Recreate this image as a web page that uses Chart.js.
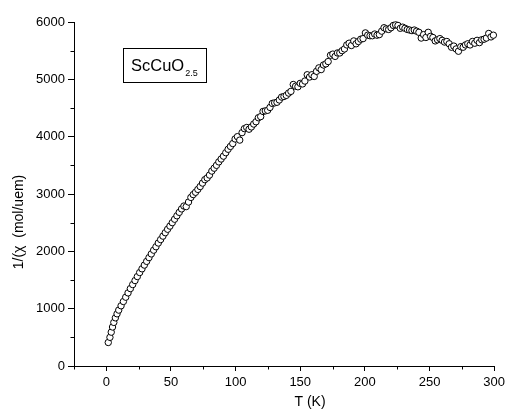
<!DOCTYPE html>
<html>
<head>
<meta charset="utf-8">
<script src="https://cdn.jsdelivr.net/npm/chart.js@4"></script>
<style>
  html, body { margin: 0; padding: 0; background: #fff; }
  #wrap { width: 509px; height: 410px; }
</style>
</head>
<body>
<div id="wrap"><canvas id="chiChart" width="509" height="410"></canvas></div>
<script>
// temperature (K)
const temps = [
  1.5, 2.8, 3.8, 4.8, 5.8, 7, 8.3, 9.6, 11.4, 13.2, 15, 16.8, 18.6, 20.4, 22.2, 24,
  25.8, 27.6, 29.4, 31.2, 33, 34.8, 36.6, 38.4, 40.2, 42, 43.8, 45.6, 47.4, 49.2,
  51, 52.8, 54.6, 56.4, 58.2, 60, 61.8, 63.6, 65.4, 67.2, 69, 70.8, 72.6, 74.4,
  76.2, 78, 79.8, 81.6, 83.4, 85.2, 87, 88.8, 90.6, 92.4, 94.2, 96, 97.8, 99.6,
  101.4, 103.2, 105, 106.8, 108.6, 110.4, 112.2, 114, 115.8, 117.6, 119.4, 121.2,
  123, 124.8, 126.6, 128.4, 130.2, 132, 133.8, 135.6, 137.4, 139.2, 141, 142.8,
  144.6, 146.4, 148.2, 150, 151.8, 153.6, 155.4, 157.2, 159, 160.8, 162.6, 164.4,
  166.2, 168, 169.8, 171.6, 173.4, 175.2, 177, 178.8, 180.6, 182.4, 184.2, 186,
  187.8, 189.6, 191.4, 193.2, 195, 196.8, 198.6, 200.4, 202.2, 204, 205.8, 207.6,
  209.4, 211.2, 213, 214.8, 216.6, 218.4, 220.2, 222, 223.8, 225.6, 227.4, 229.2,
  231, 232.8, 234.6, 236.4, 238.2, 240, 241.8, 243.6, 245.4, 247.2, 249, 250.8,
  252.6, 254.4, 256.2, 258, 259.8, 261.6, 263.4, 265.2, 267, 268.8, 270.6, 272.4,
  274.2, 276, 277.8, 279.6, 281.4, 283.2, 285, 286.8, 288.6, 290.4, 292.2, 294,
  295.8, 297.6, 299.4
];

// 1/chi (mol/uem)
const invChi = [
  410, 500, 590, 680, 760, 840, 910, 975, 1050, 1125, 1200, 1275, 1350, 1420, 1490, 1560,
  1630, 1695, 1760, 1825, 1890, 1955, 2020, 2080, 2145, 2205, 2265, 2325, 2385, 2440,
  2500, 2560, 2620, 2680, 2740, 2790, 2780, 2860, 2940, 2990, 3030, 3080, 3130, 3190,
  3250, 3280, 3330, 3400, 3450, 3500, 3560, 3610, 3660, 3720, 3780, 3830, 3880, 3960,
  4000, 3940, 4070, 4140, 4160, 4130, 4170, 4220, 4260, 4330, 4350, 4440,
  4450, 4460, 4510, 4580, 4590, 4600, 4640, 4690, 4700, 4720, 4760, 4790,
  4910, 4880, 4870, 4930, 4920, 4970, 5080, 5040, 5080, 5050, 5140, 5200,
  5170, 5250, 5270, 5310, 5420, 5440, 5400, 5460, 5460, 5500, 5530, 5600,
  5630, 5590, 5670, 5620, 5660, 5700, 5710, 5810, 5770, 5760, 5760, 5790,
  5770, 5780, 5840, 5900, 5880, 5870, 5900, 5940, 5950, 5940, 5890, 5910,
  5890, 5870, 5860, 5850, 5860, 5840, 5820, 5720, 5780, 5730, 5820, 5750,
  5730, 5670, 5690, 5710, 5680, 5650, 5660, 5620, 5560, 5580, 5530, 5490,
  5570, 5560, 5600, 5620, 5600, 5660, 5630, 5680, 5640, 5690, 5700, 5720,
  5800, 5740, 5770
];

const xTicks = [0, 50, 100, 150, 200, 250, 300];
const xMinorTicks = [-25, 25, 75, 125, 175, 225, 275];
const yTicks = [0, 1000, 2000, 3000, 4000, 5000, 6000];
const yMinorTicks = [500, 1500, 2500, 3500, 4500, 5500];

const FONT = "'Liberation Sans', Arial, sans-serif";

// minor ticks, axis titles and the compound label box
const extrasPlugin = {
  id: "extras",
  afterDraw(chart) {
    const ctx = chart.ctx;
    const xs = chart.scales.x;
    const ys = chart.scales.y;
    const area = chart.chartArea;
    ctx.save();
    ctx.strokeStyle = "#000";
    ctx.lineWidth = 1;
    ctx.beginPath();
    yMinorTicks.forEach((v) => {
      const py = Math.round(ys.getPixelForValue(v)) + 0.5;
      ctx.moveTo(area.left - 3.5, py);
      ctx.lineTo(area.left, py);
    });
    xMinorTicks.forEach((v) => {
      const px = Math.round(xs.getPixelForValue(v)) + 0.5;
      ctx.moveTo(px, area.bottom);
      ctx.lineTo(px, area.bottom + 3.5);
    });
    ctx.stroke();

    // axis titles
    ctx.fillStyle = "#000";
    ctx.font = "14px " + FONT;
    ctx.textAlign = "center";
    ctx.textBaseline = "middle";
    ctx.fillText("T (K)", 310, 402);
    ctx.save();
    ctx.translate(19, 222);
    ctx.rotate(-Math.PI / 2);
    ctx.fillText("1/(\u03C7  (mol/uem)", 0, 0);
    ctx.restore();

    // compound label
    ctx.strokeRect(123.5, 48.5, 83, 34);
    ctx.textAlign = "left";
    ctx.textBaseline = "alphabetic";
    ctx.font = "16.5px " + FONT;
    ctx.fillText("ScCuO", 131, 71);
    const w = ctx.measureText("ScCuO").width;
    ctx.font = "9px " + FONT;
    ctx.fillText("2.5", 131 + w + 1, 76);
    ctx.restore();
  },
};

const ctx = document.getElementById("chiChart").getContext("2d");

new Chart(ctx, {
  type: "scatter",
  data: {
    datasets: [
      {
        data: temps.map((t, i) => ({ x: t, y: invChi[i] })),
        pointStyle: "circle",
        pointRadius: 3.2,
        pointBorderWidth: 1,
        pointBorderColor: "#000",
        pointBackgroundColor: "#fff",
        showLine: false,
        clip: false,
      },
    ],
  },
  options: {
    responsive: false,
    animation: false,
    layout: { padding: { top: 22, right: 11, left: 0, bottom: 0 } },
    plugins: {
      legend: { display: false },
      tooltip: { enabled: false },
    },
    scales: {
      x: {
        type: "linear",
        min: -25,
        max: 300,
        afterBuildTicks: (scale) => {
          scale.ticks = xTicks.map((v) => ({ value: v }));
        },
        afterFit: (scale) => {
          scale.height = 44;
        },
        border: { display: true, color: "#000", width: 1 },
        grid: {
          drawOnChartArea: false,
          drawTicks: true,
          tickLength: 5,
          tickColor: "#000",
        },
        ticks: {
          color: "#000",
          font: { family: FONT, size: 13 },
          padding: 4,
          maxRotation: 0,
          callback: (v) => String(v),
        },
      },
      y: {
        type: "linear",
        min: 0,
        max: 6000,
        afterBuildTicks: (scale) => {
          scale.ticks = yTicks.map((v) => ({ value: v }));
        },
        afterFit: (scale) => {
          scale.width = 74;
        },
        border: { display: true, color: "#000", width: 1 },
        grid: {
          drawOnChartArea: false,
          drawTicks: true,
          tickLength: 6,
          tickColor: "#000",
        },
        ticks: {
          color: "#000",
          font: { family: FONT, size: 13 },
          padding: 3,
          callback: (v) => String(v),
        },
      },
    },
  },
  plugins: [extrasPlugin],
});
</script>
</body>
</html>
